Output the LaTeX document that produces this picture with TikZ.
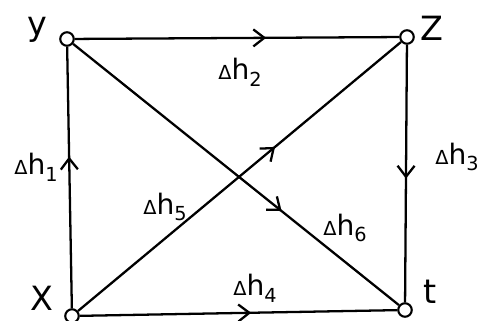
\documentclass[tikz,border=0pt]{standalone}
\usepackage{fontspec}
\setmainfont{DejaVu Sans}
\usetikzlibrary{decorations.markings, arrows.meta}

\newcommand{\dhlab}[1]{{\fontsize{11}{11}\selectfont Δ}h\raisebox{-0.45ex}{\fontsize{11}{11}\selectfont #1}}

\tikzset{
  vertex/.style={draw, circle, fill=white, inner sep=0pt, minimum size=0.27cm, line width=1.2pt},
  flow/.style={line width=1.3pt, postaction={decorate},
    decoration={markings, mark=at position #1 with {\arrow{Straight Barb[length=2.2mm, width=3.4mm]}}}},
  vlabel/.style={font=\fontsize{19}{22}\selectfont},
  hlabel/.style={font=\fontsize{16}{18}\selectfont}
}

\begin{document}
\begin{tikzpicture}
  \useasboundingbox (0,0) rectangle (9.76,6.42);
  \node[vertex] (y) at (1.34, 5.64) {};
  \node[vertex] (z) at (8.14, 5.68) {};
  \node[vertex] (x) at (1.44, 0.10) {};
  \node[vertex] (t) at (8.10, 0.22) {};
  \node[vlabel] (ylab) at (0.74, 5.82) {y};
  \node[vlabel] (zlab) at (8.64, 5.86) {Z};
  \node[vlabel] (xlab) at (0.84, 0.46) {X};
  \node[vlabel] (tlab) at (8.60, 0.58) {t};
  % edges
  \draw[flow=0.58] (x) -- (y);
  \draw[flow=0.59] (y) -- (z);
  \draw[flow=0.52] (z) -- (t);
  \draw[flow=0.54] (x) -- (t);
  \draw[flow=0.61] (x) -- (z);
  \draw[flow=0.64] (y) -- (t);
  % labels
  \node[hlabel] (h1) at (0.72, 3.08) {\dhlab{1}};
  \node[hlabel] (h2) at (4.80, 4.98) {\dhlab{2}};
  \node[hlabel] (h3) at (9.14, 3.28) {\dhlab{3}};
  \node[hlabel] (h4) at (5.10, 0.66) {\dhlab{4}};
  \node[hlabel] (h5) at (3.30, 2.28) {\dhlab{5}};
  \node[hlabel] (h6) at (6.90, 1.86) {\dhlab{6}};
\end{tikzpicture}
\end{document}
